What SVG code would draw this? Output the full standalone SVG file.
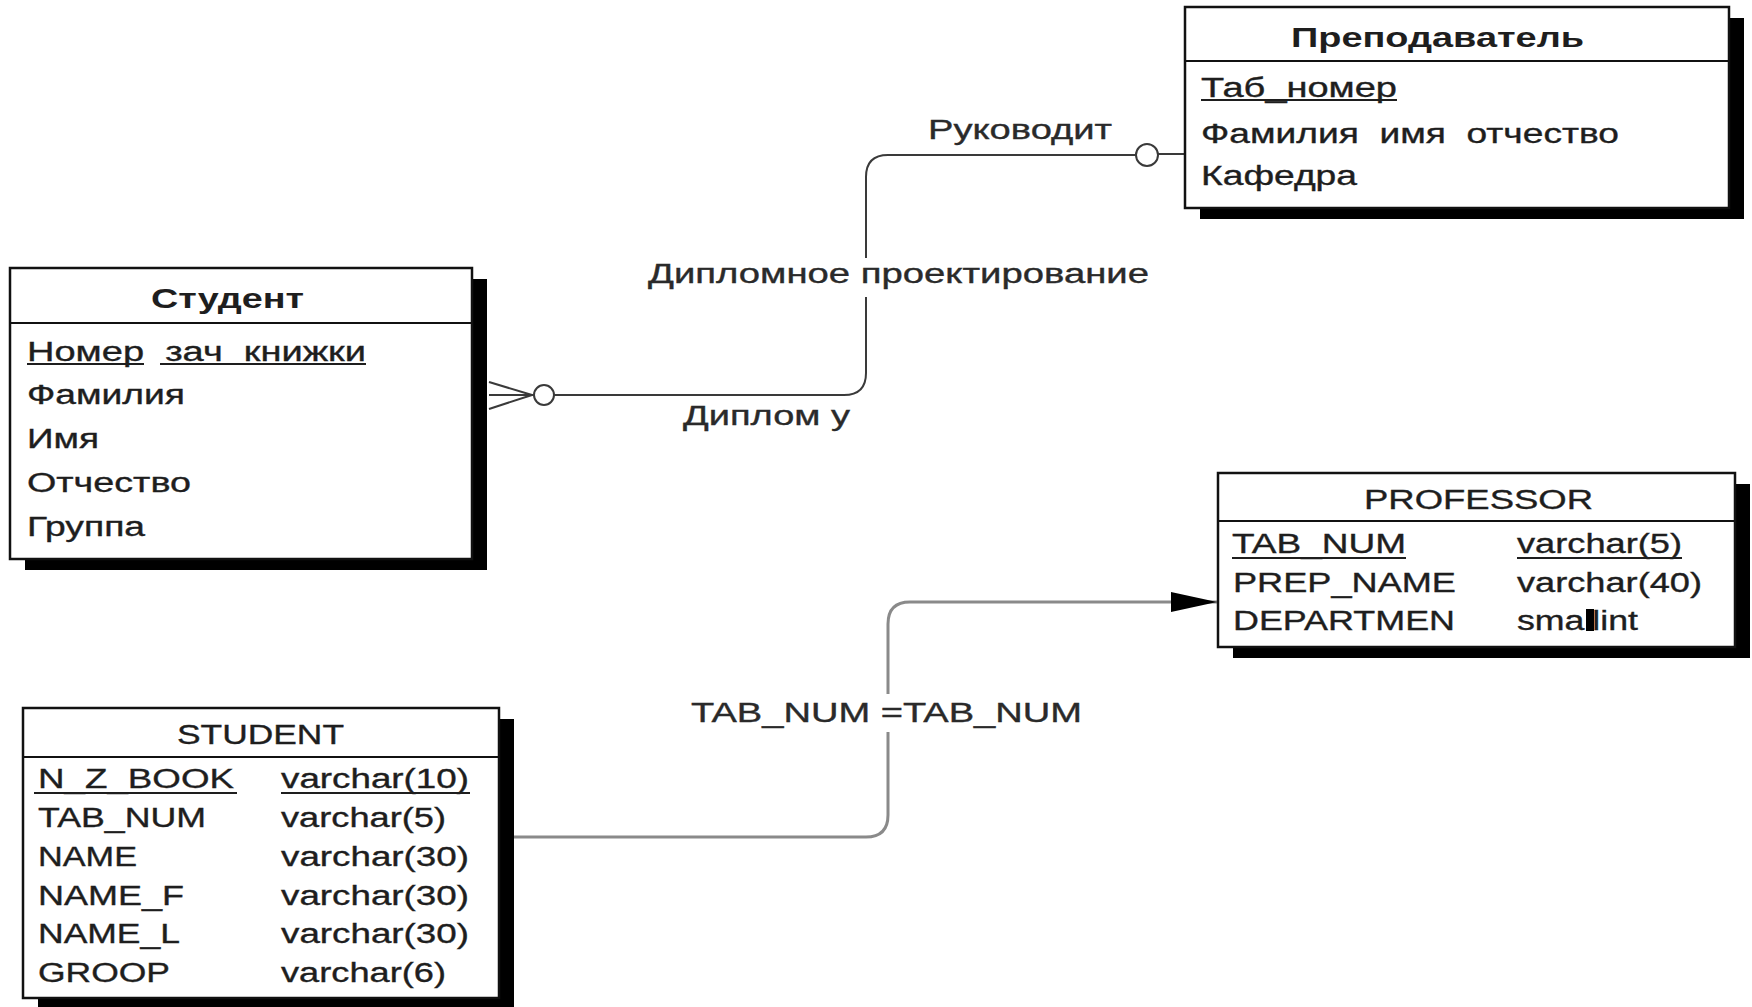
<svg xmlns="http://www.w3.org/2000/svg" width="1752" height="1007" viewBox="0 0 1752 1007">
<style>
  text { font-family: "Liberation Sans", Arial, sans-serif; font-size: 27px; fill: #1e1e1e; stroke: #1e1e1e; stroke-width: 0.35; white-space: pre; }
  .ttl { font-weight: bold; stroke-width: 0; }
  .box { fill: #ffffff; stroke: #111111; stroke-width: 2.5; }
  .shadow { fill: #000000; }
  .div { stroke: #111111; stroke-width: 2; }
  .ul { stroke: #1e1e1e; stroke-width: 2; }
  .conn1 { fill: none; stroke: #3a3a3a; stroke-width: 2; }
  .conn2 { fill: none; stroke: #8a8a8a; stroke-width: 3; }
  .lbl { fill: #2a2a2a; stroke: #2a2a2a; }
  .lblbg { fill: #ffffff; }
</style>
<defs>
  <marker id="arrow" markerUnits="userSpaceOnUse" markerWidth="48" markerHeight="22" refX="46" refY="11" orient="auto">
    <path d="M0,1 L46,11 L0,21 Z" fill="#000000"/>
  </marker>
</defs>
<rect width="1752" height="1007" fill="#ffffff"/>

<g id="connectors">
  <!-- Дипломное проектирование -->
  <path class="conn1" d="M554,395 L844,395 Q866,395 866,373 L866,177 Q866,155 888,155 L1136,155"/>
  <line class="conn1" x1="1158" y1="154" x2="1185" y2="154"/>
  <circle cx="1147" cy="155" r="11" fill="#ffffff" stroke="#3a3a3a" stroke-width="2"/>
  <line class="conn1" x1="489" y1="382" x2="532" y2="395"/>
  <line class="conn1" x1="489" y1="395" x2="534" y2="395"/>
  <line class="conn1" x1="489" y1="409" x2="532" y2="395"/>
  <circle cx="544" cy="395" r="10" fill="#ffffff" stroke="#3a3a3a" stroke-width="2"/>
  <rect class="lblbg" x="646" y="258" width="505" height="39"/>
  <text class="lbl" x="928" y="139" textLength="184" lengthAdjust="spacingAndGlyphs">Руководит</text>
  <text class="lbl" x="648" y="283" textLength="501" lengthAdjust="spacingAndGlyphs">Дипломное проектирование</text>
  <text class="lbl" x="683" y="425" textLength="167" lengthAdjust="spacingAndGlyphs">Диплом у</text>

  <!-- TAB_NUM = TAB_NUM -->
  <path class="conn2" d="M514,837 L866,837 Q888,837 888,815 L888,624 Q888,602 910,602 L1217,602" marker-end="url(#arrow)"/>
  <rect class="lblbg" x="689" y="694" width="395" height="38"/>
  <text class="lbl" x="691" y="722" textLength="391" lengthAdjust="spacingAndGlyphs">TAB_NUM =TAB_NUM</text>
</g>

<g id="student-ru">
  <rect class="shadow" x="25" y="279" width="462" height="291"/>
  <rect class="box" x="10" y="268" width="462" height="291"/>
  <line class="div" x1="10" y1="323" x2="472" y2="323"/>
  <text class="ttl" x="151" y="308" textLength="153" lengthAdjust="spacingAndGlyphs">Студент</text>
  <text x="27" y="361" textLength="339" lengthAdjust="spacingAndGlyphs">Номер  зач  книжки</text>
  <line class="ul" x1="27" y1="364" x2="144" y2="364"/>
  <line class="ul" x1="160" y1="364" x2="366" y2="364"/>
  <text x="27" y="404" textLength="158" lengthAdjust="spacingAndGlyphs">Фамилия</text>
  <text x="27" y="448" textLength="72" lengthAdjust="spacingAndGlyphs">Имя</text>
  <text x="27" y="492" textLength="164" lengthAdjust="spacingAndGlyphs">Отчество</text>
  <text x="27" y="536" textLength="118" lengthAdjust="spacingAndGlyphs">Группа</text>
</g>

<g id="teacher-ru">
  <rect class="shadow" x="1200" y="18" width="544" height="201"/>
  <rect class="box" x="1185" y="7" width="544" height="201"/>
  <line class="div" x1="1185" y1="61" x2="1729" y2="61"/>
  <text class="ttl" x="1291" y="47" textLength="293" lengthAdjust="spacingAndGlyphs">Преподаватель</text>
  <text x="1201" y="97" textLength="196" lengthAdjust="spacingAndGlyphs">Таб_номер</text>
  <line class="ul" x1="1201" y1="100" x2="1397" y2="100"/>
  <text x="1201" y="143" textLength="418" lengthAdjust="spacingAndGlyphs">Фамилия  имя  отчество</text>
  <text x="1201" y="185" textLength="156" lengthAdjust="spacingAndGlyphs">Кафедра</text>
</g>

<g id="professor">
  <rect class="shadow" x="1233" y="484" width="517" height="174"/>
  <rect class="box" x="1218" y="473" width="517" height="174"/>
  <line class="div" x1="1218" y1="521" x2="1735" y2="521"/>
  <text x="1364" y="509" textLength="229" lengthAdjust="spacingAndGlyphs">PROFESSOR</text>
  <text x="1232" y="553" textLength="174" lengthAdjust="spacingAndGlyphs">TAB_NUM</text>
  <line class="ul" x1="1232" y1="558" x2="1406" y2="558"/>
  <text x="1517" y="553" textLength="165" lengthAdjust="spacingAndGlyphs">varchar(5)</text>
  <line class="ul" x1="1517" y1="558" x2="1682" y2="558"/>
  <text x="1233" y="592" textLength="223" lengthAdjust="spacingAndGlyphs">PREP_NAME</text>
  <text x="1517" y="592" textLength="185" lengthAdjust="spacingAndGlyphs">varchar(40)</text>
  <text x="1233" y="630" textLength="222" lengthAdjust="spacingAndGlyphs">DEPARTMEN</text>
  <text x="1517" y="630" textLength="121" lengthAdjust="spacingAndGlyphs">smallint</text>
  <rect x="1586" y="609" width="8" height="22" fill="#000000"/>
</g>

<g id="student">
  <rect class="shadow" x="38" y="719" width="476" height="290"/>
  <rect class="box" x="23" y="708" width="476" height="290"/>
  <line class="div" x1="23" y1="757" x2="499" y2="757"/>
  <text x="177" y="744" textLength="167" lengthAdjust="spacingAndGlyphs">STUDENT</text>
  <text x="38" y="788" textLength="196" lengthAdjust="spacingAndGlyphs">N_Z_BOOK</text>
  <line class="ul" x1="34" y1="793" x2="237" y2="793"/>
  <text x="281" y="788" textLength="188" lengthAdjust="spacingAndGlyphs">varchar(10)</text>
  <line class="ul" x1="281" y1="793" x2="470" y2="793"/>
  <text x="38" y="827" textLength="168" lengthAdjust="spacingAndGlyphs">TAB_NUM</text>
  <text x="281" y="827" textLength="165" lengthAdjust="spacingAndGlyphs">varchar(5)</text>
  <text x="38" y="866" textLength="99" lengthAdjust="spacingAndGlyphs">NAME</text>
  <text x="281" y="866" textLength="188" lengthAdjust="spacingAndGlyphs">varchar(30)</text>
  <text x="38" y="905" textLength="146" lengthAdjust="spacingAndGlyphs">NAME_F</text>
  <text x="281" y="905" textLength="188" lengthAdjust="spacingAndGlyphs">varchar(30)</text>
  <text x="38" y="943" textLength="142" lengthAdjust="spacingAndGlyphs">NAME_L</text>
  <text x="281" y="943" textLength="188" lengthAdjust="spacingAndGlyphs">varchar(30)</text>
  <text x="38" y="982" textLength="132" lengthAdjust="spacingAndGlyphs">GROOP</text>
  <text x="281" y="982" textLength="165" lengthAdjust="spacingAndGlyphs">varchar(6)</text>
</g>
</svg>
